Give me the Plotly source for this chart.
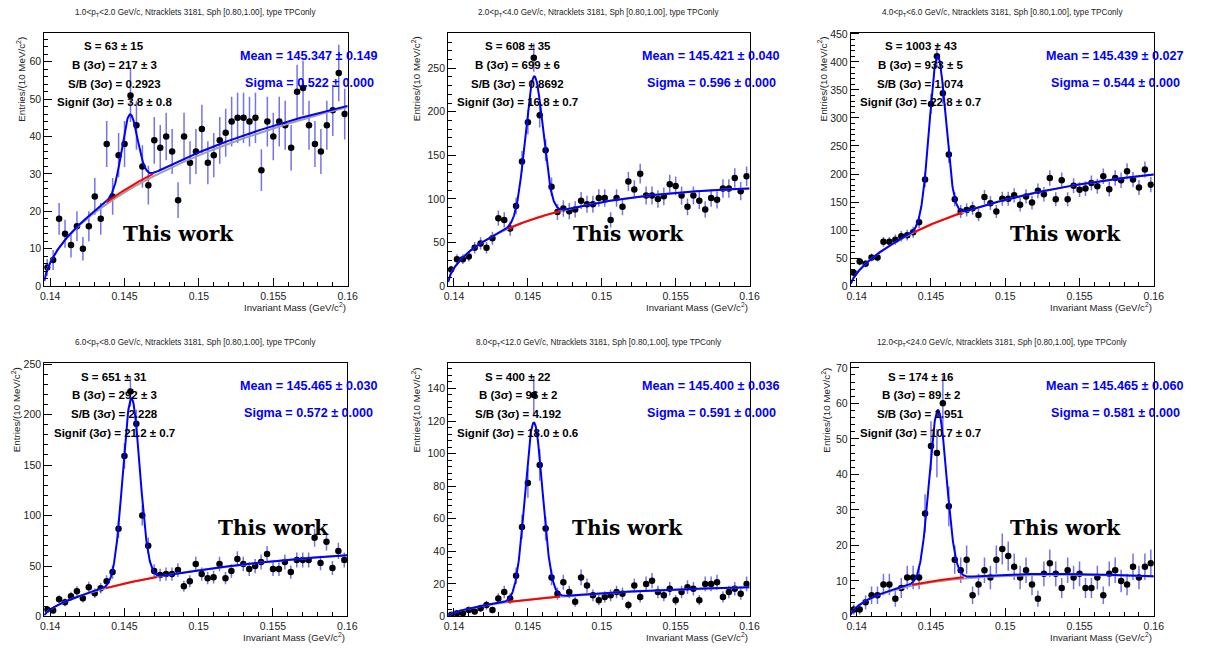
import numpy as np
import plotly.graph_objects as go

# ---------------------------------------------------------------------------
# D* delta-invariant-mass spectra, six pT intervals
# ---------------------------------------------------------------------------
MASS_LO = 0.1396          # histogram lower edge (GeV/c^2)
MASS_HI = 0.1600          # histogram upper edge (GeV/c^2)
N_BINS = 51
PION_MASS = 0.13957       # threshold of the background function

pt_bins = ["1.0", "2.0", "4.0", "6.0", "8.0", "12.0", "24.0"]

counts_pt_1_2 = [5, 7, 18, 14, 11, 16, 10, 16, 24, 18, 38, 24, 35, 38, 51, 43, 32, 27, 39, 37,
                 40, 36, 23, 40, 33, 36, 42, 33, 35, 39, 41, 44, 45, 45, 44, 45, 31, 44, 40, 44,
                 43, 37, 52, 53, 43, 38, 36, 43, 47, 57, 46]
counts_pt_2_4 = [19, 31, 31, 34, 44, 49, 44, 55, 78, 76, 66, 92, 143, 188, 262, 196, 156, 114, 85, 89,
                 86, 88, 98, 94, 94, 101, 101, 76, 101, 91, 120, 111, 129, 104, 104, 100, 103, 117, 115, 104,
                 91, 104, 98, 88, 101, 99, 112, 112, 124, 109, 126]
counts_pt_4_6 = [24, 44, 40, 51, 51, 79, 79, 83, 89, 91, 96, 114, 190, 325, 410, 344, 235, 155, 133, 136,
                 139, 127, 159, 148, 133, 156, 156, 162, 145, 160, 149, 170, 164, 193, 155, 189, 155, 179, 172, 174,
                 184, 178, 196, 173, 193, 189, 205, 190, 176, 208, 181]
counts_pt_6_8 = [7, 6, 17, 14, 20, 25, 18, 29, 23, 28, 35, 44, 87, 159, 223, 191, 100, 70, 45, 41,
                 42, 42, 46, 30, 35, 52, 42, 38, 39, 52, 38, 45, 57, 52, 47, 50, 54, 62, 47, 47,
                 54, 44, 56, 56, 56, 78, 53, 74, 48, 65, 56]
counts_pt_8_12 = [1, 2, 2, 4, 3, 5, 7, 4, 11, 15, 11, 25, 55, 82, 136, 93, 54, 24, 14, 21,
                  15, 9, 24, 19, 13, 10, 12, 13, 15, 14, 7, 19, 12, 20, 22, 15, 13, 17, 10, 15,
                  18, 17, 10, 20, 20, 21, 12, 15, 17, 14, 20]
counts_pt_12_24 = [2, 2, 4, 6, 6, 9, 9, 5, 8, 11, 11, 11, 29, 48, 46, 60, 31, 16, 13, 16,
                   6, 9, 13, 11, 16, 19, 17, 14, 11, 13, 9, 5, 12, 15, 12, 8, 13, 11, 12, 8,
                   8, 11, 6, 12, 13, 10, 9, 14, 11, 14, 15]

# fit results printed on each pad
signal = [63, 608, 1003, 651, 400, 174]
signal_err = [15, 35, 43, 31, 22, 16]
bkg_3sigma = [217, 699, 933, 292, 96, 89]
bkg_3sigma_err = [3, 6, 5, 3, 2, 2]
s_over_b = ["0.2923", "0.8692", "1.074", "2.228", "4.192", "1.951"]
signif = ["3.8", "16.8", "22.8", "21.2", "18.0", "10.7"]
signif_err = ["0.8", "0.7", "0.7", "0.7", "0.6", "0.7"]
mean_mev = ["145.347", "145.421", "145.439", "145.465", "145.400", "145.465"]
mean_err_mev = ["0.149", "0.040", "0.027", "0.030", "0.036", "0.060"]
sigma_mev = ["0.522", "0.596", "0.544", "0.572", "0.591", "0.581"]

# background curve level at three reference masses (total fit / sideband fit)
BKG_REF_MASS = [0.1406, 0.1450, 0.1600]
bkg_ref = [[10.3, 25.7, 48.2], [33, 75, 112], [40, 110, 199],
           [12, 32.6, 60.7], [4.0, 10.4, 18.0], [4.4, 9.9, 11.3]]
side_ref = [[10.3, 25.1, 47.9], [33, 75, 112], [40, 110, 199],
            [12, 32.6, 60.7], [4.0, 10.4, 18.0], [4.4, 9.6, 11.25]]

all_counts = [counts_pt_1_2, counts_pt_2_4, counts_pt_4_6,
              counts_pt_6_8, counts_pt_8_12, counts_pt_12_24]

# ---------------------------------------------------------------------------
W, H = 1207, 651
# pad frames in pixels: left, right, top, bottom
frames = [(40.7, 347.7, 28, 286), (449.3, 754.3, 28, 286), (856.7, 1163.3, 28, 286),
          (40.7, 347.3, 364, 622), (449.3, 754.3, 364, 622), (856.7, 1163.3, 364, 622)]
y_top = [67.8, 290.9, 452.3, 251.3, 155.7, 71.4]
y_major = [10, 50, 50, 50, 20, 10]
y_minor = [2, 10, 10, 10, 4, 2]
ytitle_pos = [(17, 30), (417, 30), (828, 30), (12, 366), (417, 367), (832, 367)]
thiswork_pos = [(177, 233), (631.5, 233), (1074, 233), (273, 532), (631, 532), (1074, 532)]

SANS = "Liberation Sans, Arial, Helvetica, sans-serif"
BLUE = "#0000ff"
RED = "#ff0000"
GREY = "#a0a0a0"
ERR_COLOR = "rgba(70,70,225,0.75)"

bin_w = (MASS_HI - MASS_LO) / N_BINS
centers = MASS_LO + bin_w * (np.arange(N_BINS) + 0.5)
xf = np.linspace(MASS_LO, MASS_HI, 800)


def px_x(p):
    return p / W


def px_y(p):
    return 1 - p / H


def bkg_params(ref):
    s = np.array(BKG_REF_MASS) - PION_MASS
    A = np.column_stack([np.ones(3), np.log(s), s])
    return np.linalg.solve(A, np.log(np.array(ref, dtype=float)))


def bkg_func(x, par):
    s = np.clip(x - PION_MASS, 1e-9, None)
    return np.exp(par[0] + par[1] * np.log(s) + par[2] * s)


fig = go.Figure()
annotations = []

for k in range(6):
    ax = "" if k == 0 else str(k + 1)
    xa, ya = "x" + ax, "y" + ax
    l, r, t, b = frames[k]

    mu = float(mean_mev[k]) / 1000.0
    sg = float(sigma_mev[k]) / 1000.0
    amp = signal[k] * bin_w / (sg * np.sqrt(2 * np.pi) * 0.9973)
    bpar = bkg_params(bkg_ref[k])
    spar = bkg_params(side_ref[k])

    counts = np.array(all_counts[k], dtype=float)
    err = np.sqrt(counts)

    total = bkg_func(xf, bpar) + amp * np.exp(-0.5 * ((xf - mu) / sg) ** 2)
    xr = np.linspace(mu - 3 * sg, mu + 3 * sg, 200)

    fig.add_trace(go.Scatter(x=centers, y=counts, mode="markers", xaxis=xa, yaxis=ya,
                             marker=dict(color="black", size=6.5),
                             error_y=dict(type="data", array=err, color=ERR_COLOR,
                                          thickness=1.5, width=0),
                             showlegend=False, hoverinfo="skip"))
    fig.add_trace(go.Scatter(x=xf, y=bkg_func(xf, spar), mode="lines", xaxis=xa, yaxis=ya,
                             line=dict(color=GREY, width=2), showlegend=False, hoverinfo="skip"))
    fig.add_trace(go.Scatter(x=xf, y=total, mode="lines", xaxis=xa, yaxis=ya,
                             line=dict(color=BLUE, width=2), showlegend=False, hoverinfo="skip"))
    fig.add_trace(go.Scatter(x=xr, y=bkg_func(xr, bpar), mode="lines", xaxis=xa, yaxis=ya,
                             line=dict(color=RED, width=2), showlegend=False, hoverinfo="skip"))

    axis_common = dict(showline=True, linecolor="black", linewidth=1, mirror=True,
                       ticks="inside", tickcolor="black", ticklen=8, tickwidth=1,
                       showgrid=False, zeroline=False,
                       tickfont=dict(family=SANS, size=10.5, color="#222"))
    fig.update_layout(**{
        ("xaxis" + ax): dict(domain=[px_x(l), px_x(r)], range=[MASS_LO, MASS_HI], anchor=ya,
                             tickmode="linear", tick0=0.14, dtick=0.005,
                             minor=dict(tick0=0.14, dtick=0.001, ticks="inside", ticklen=4,
                                        tickcolor="black", showgrid=False),
                             **axis_common),
        ("yaxis" + ax): dict(domain=[px_y(b), px_y(t)], range=[0, y_top[k]], anchor=xa,
                             tickmode="linear", tick0=0, dtick=y_major[k],
                             minor=dict(tick0=0, dtick=y_minor[k], ticks="inside", ticklen=4,
                                        tickcolor="black", showgrid=False),
                             **axis_common),
    })

    # pad title
    annotations.append(dict(
        x=px_x((l + r) / 2), y=px_y(t - 19.7), xref="paper", yref="paper",
        text=f"{pt_bins[k]}&lt;p<sub>T</sub>&lt;{pt_bins[k + 1]} GeV/c, Ntracklets 3181, "
             f"Sph [0.80,1.00], type TPConly",
        showarrow=False, xanchor="center", yanchor="middle",
        font=dict(family=SANS, size=8.2, color="#222")))

    # axis titles
    annotations.append(dict(
        x=px_x(r), y=px_y(b + 21), xref="paper", yref="paper",
        text="Invariant Mass (GeV/c<sup>2</sup>)", showarrow=False,
        xanchor="right", yanchor="middle", font=dict(family=SANS, size=9.6, color="#222")))
    yx, yt = ytitle_pos[k]
    annotations.append(dict(
        x=px_x(yx), y=px_y(yt), xref="paper", yref="paper",
        text="Entries/(10 MeV/c<sup>2</sup>)", showarrow=False, textangle=-90,
        xanchor="center", yanchor="top", font=dict(family=SANS, size=9.8, color="#222")))

    # signal extraction summary
    lines = [f"S = {signal[k]} ± {signal_err[k]}",
             f"B (3σ) = {bkg_3sigma[k]} ± {bkg_3sigma_err[k]}",
             f"S/B (3σ) = {s_over_b[k]}",
             f"Signif (3σ) = {signif[k]} ± {signif_err[k]}"]
    for j, txt in enumerate(lines):
        annotations.append(dict(
            x=px_x(l + 0.231 * (r - l)), y=px_y(t + 14 + 19 * j), xref="paper", yref="paper",
            text=f"<b>{txt}</b>", showarrow=False, xanchor="center", yanchor="middle",
            font=dict(family=SANS, size=11.5, color="black")))

    for j, txt in enumerate([f"Mean = {mean_mev[k]} ± {mean_err_mev[k]}",
                             f"Sigma = {sigma_mev[k]} ± 0.000"]):
        annotations.append(dict(
            x=px_x(l + 0.873 * (r - l)), y=px_y(t + 24 + 27 * j), xref="paper", yref="paper",
            text=f"<b>{txt}</b>", showarrow=False, xanchor="center", yanchor="middle",
            font=dict(family=SANS, size=12.6, color=BLUE)))

    tx, ty = thiswork_pos[k]
    annotations.append(dict(
        x=px_x(tx), y=px_y(ty), xref="paper", yref="paper", text="<b>This work</b>",
        showarrow=False, xanchor="center", yanchor="middle",
        font=dict(family="DejaVu Serif, serif", size=20, color="black")))

fig.update_layout(width=W, height=H, margin=dict(l=0, r=0, t=0, b=0),
                  paper_bgcolor="white", plot_bgcolor="white",
                  annotations=annotations, showlegend=False)

fig.write_html("out.html")
